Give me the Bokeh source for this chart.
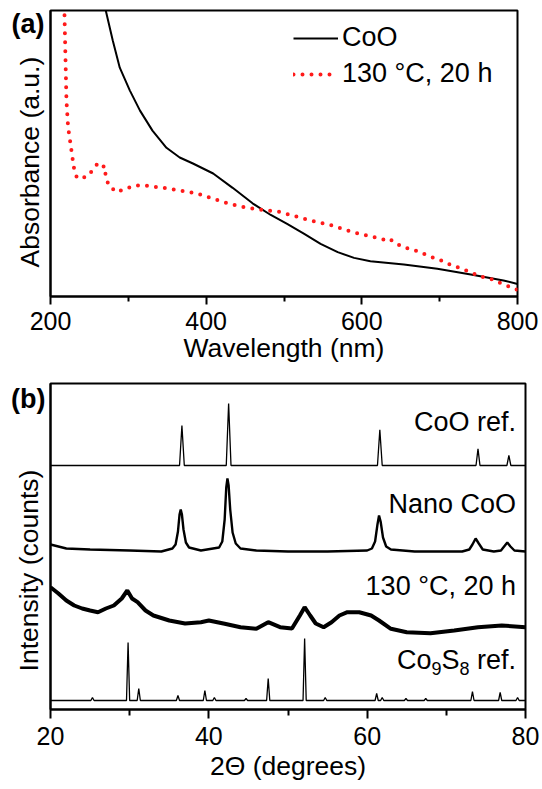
import math
from bokeh.plotting import figure
from bokeh.layouts import column
from bokeh.models import FixedTicker, Legend, LegendItem, Label, Range1d
from bokeh.core.properties import value
from bokeh.embed import file_html
from bokeh.resources import INLINE

FONT = "Liberation Sans"

# ---------------- (a) UV-vis absorbance ----------------
coo_wl = [271, 280, 289, 302, 315, 331, 349, 366, 383, 409, 434, 460, 483, 504, 526,
          547, 569, 590, 611, 654, 697, 740, 782, 800]
coo_abs = [100, 89.5, 80, 72, 65, 58, 52, 48.6, 46.5, 43, 38, 32.5, 28.5, 25.4, 21.9,
           18.4, 15.5, 13.5, 12.3, 11.2, 9.7, 7.7, 5.6, 4.4]

s130_wl = [218, 219, 220.5, 222.6, 225.7, 229.9, 234, 245, 253.9, 260.3, 264.6, 269.7,
           271, 275, 284.7, 296.7, 308.2, 321, 344.6, 366, 387.4, 408.8, 430.2, 449.5,
           470.9, 491.5, 515, 538.5, 562, 585.6, 607, 628.3, 634.8, 643.4, 656.2, 666.9,
           679.7, 692.5, 705.4, 716.2, 729, 739.7, 752.5, 765.4, 778.2, 800]
s130_abs = [98.3, 86, 68.5, 59.2, 53.4, 45.2, 41.4, 41.7, 44, 46.4, 45.2, 45.6,
            41.7, 38.8, 36.5, 37.7, 38.8, 38.8, 38, 37.1, 36.1, 34.2, 32.4, 31.2,
            30.3, 29.8, 28, 26.3, 24.8, 22.7, 21.3, 19.9, 20.4, 18.6, 17, 16.3,
            14.9, 13.5, 12.3, 10.8, 9.7, 8.5, 7, 6.2, 4.7, 2.3]

wl_ticks = [200, 400, 600, 800]
wl_minor = [300, 500, 700]

# ---------------- (b) XRD ----------------
coo_ref_x = [20, 36.3, 36.6, 36.9, 42.2, 42.5, 42.8, 61.3, 61.6, 61.9, 73.75, 74.0, 74.25,
             77.65, 77.9, 78.15, 80]
coo_ref_y = [244, 244, 284, 244, 244, 306, 244, 244, 279.7, 244, 244, 260.7, 244,
             244, 254, 244, 244]

nano_x = [20, 22, 25, 30, 34, 35.4, 35.8, 36.1, 36.3, 36.45, 36.6, 36.8, 37.1, 37.5,
          39, 41.3, 41.7, 42.0, 42.2, 42.35, 42.5, 42.7, 43.0, 43.4, 44, 46, 50, 55, 60,
          60.6, 61.0, 61.3, 61.5, 61.7, 62.0, 62.4, 63, 66, 72, 72.9, 73.3, 73.7, 74.1,
          74.6, 76, 76.9, 77.3, 77.7, 78.1, 78.6, 80]
nano_y = [165, 161, 160, 159, 158, 161, 165, 178, 195, 200, 195, 180, 167, 162,
          159, 162, 168, 190, 222, 231, 224, 200, 177, 166, 161, 159, 158, 158, 159,
          161, 168, 185, 194, 188, 172, 163, 160, 158, 158, 160, 165, 171, 166,
          160, 158, 159, 163, 167, 163, 159, 158]

s130_x = [20, 21, 22, 23, 24, 25, 26, 27, 28, 29, 29.7, 30.3, 31, 32, 33, 35, 37, 39, 40,
          42, 44, 46, 47.5, 49, 50.5, 51.5, 52.1, 52.8, 53.5, 54.5, 55.5, 56.5, 57.5, 59,
          60.5, 61.5, 63, 65, 68, 71, 74, 77, 80]
s130_y = [122.3, 116, 109, 104, 101, 99, 97.3, 101, 104, 111, 119, 111, 107.3, 99, 94, 89,
          86, 87.3, 89, 85.7, 82.3, 80.7, 87.3, 82.3, 81, 94, 102.3, 94, 86, 82.3, 87.3, 94,
          97.3, 97.3, 94, 89, 80.7, 77.3, 76.3, 79, 82.3, 84, 82.3]

co9s8_peaks = [25.3, 29.8, 31.15, 36.1, 39.5, 40.7, 44.7, 47.5, 52.1, 54.7, 61.2, 61.9,
               64.9, 67.4, 73.3, 76.8, 79.0]
co9s8_tops = [12, 67, 21, 14, 19, 12, 11, 31, 71, 12, 16, 12, 11, 11, 18, 17, 12]
co9s8_base = 9

tt_ticks = [20, 40, 60, 80]
tt_minor = [30, 50, 70]

# stick-like reference profile built from the peak list
co9_x = [20]
co9_y = [co9s8_base]
for pk, tp in zip(co9s8_peaks, co9s8_tops):
    co9_x += [pk - 0.2, pk, pk + 0.2]
    co9_y += [co9s8_base, tp, co9s8_base]
co9_x.append(80)
co9_y.append(co9s8_base)


def style(p, ticks, minor, xlabel):
    p.xgrid.visible = False
    p.ygrid.visible = False
    p.outline_line_color = "black"
    p.outline_line_width = 2
    p.background_fill_color = "white"
    p.border_fill_color = "white"
    p.xaxis.ticker = FixedTicker(ticks=ticks, minor_ticks=minor)
    p.yaxis.ticker = FixedTicker(ticks=[])
    for ax in (p.xaxis[0], p.yaxis[0]):
        ax.axis_line_width = 2
        ax.axis_line_color = "black"
        ax.major_tick_line_width = 2
        ax.minor_tick_line_width = 2
        ax.major_tick_in = 0
        ax.minor_tick_in = 0
        ax.major_label_text_font = FONT
        ax.major_label_text_font_size = "25px"
        ax.major_label_text_color = "black"
        ax.axis_label_text_font = FONT
        ax.axis_label_text_font_size = "26.5px"
        ax.axis_label_text_font_style = "normal"
        ax.axis_label_text_color = "black"
    p.xaxis.major_tick_out = 8
    p.xaxis.minor_tick_out = 5
    p.yaxis.major_tick_out = 0
    p.yaxis.minor_tick_out = 0
    p.yaxis.major_label_standoff = 0
    p.xaxis.major_label_standoff = 7
    p.xaxis.axis_label_standoff = 0
    p.xaxis.axis_label = xlabel


def free_text(p, x, y, txt, dx, dy, size, bold=False, angle=0.0, align="left"):
    # text glyph drawn at overlay level so that it is not clipped to the frame
    r = p.text(x=[x], y=[y], text=[txt], x_offset=dx, y_offset=dy, angle=angle,
               text_font=value(FONT), text_font_size=size,
               text_font_style="bold" if bold else "normal",
               text_baseline="middle", text_align=align, text_color="black")
    r.level = "overlay"


# ---------- figure (a) ----------
pa = figure(frame_width=467, frame_height=286, min_border_left=50, min_border_top=10,
            min_border_right=25, min_border_bottom=72,
            x_range=Range1d(200, 800), y_range=Range1d(0, 100),
            output_backend="svg", toolbar_location=None)
style(pa, wl_ticks, wl_minor, "Wavelength (nm)")

r_coo = pa.line(coo_wl, coo_abs, line_color="black", line_width=2)
r_130 = pa.line(s130_wl, s130_abs, line_color="#ff1a1a", line_width=4,
                line_dash="0 9", line_cap="round")

leg = Legend(items=[LegendItem(label="CoO", renderers=[r_coo]),
                    LegendItem(label="130 °C, 20 h", renderers=[r_130])],
             location=(243, 207), orientation="vertical",
             glyph_width=45, glyph_height=30, label_height=30, label_standoff=4,
             spacing=5, padding=0, margin=0,
             label_text_font=FONT, label_text_font_size="27px",
             label_text_color="black",
             border_line_alpha=0, background_fill_alpha=0)
pa.add_layout(leg)

free_text(pa, 200, 100, "(a)", -39, 13, "27px", bold=True)
free_text(pa, 200, 47, "Absorbance (a.u.)", -21, 0, "26.5px", angle=math.pi / 2, align="center")

# ---------- figure (b) ----------
pb = figure(frame_width=475, frame_height=326, min_border_left=50, min_border_top=15,
            min_border_right=17, min_border_bottom=72,
            x_range=Range1d(20, 80), y_range=Range1d(0, 326),
            output_backend="svg", toolbar_location=None)
style(pb, tt_ticks, tt_minor, "2Θ (degrees)")
pb.xaxis.major_tick_out = 9
pb.xaxis.minor_tick_out = 6
pb.xaxis.major_label_standoff = 8
pb.xaxis.axis_label_standoff = 3

pb.line(coo_ref_x, coo_ref_y, line_color="black", line_width=1.3)
pb.line(nano_x, nano_y, line_color="black", line_width=2.4)
pb.line(s130_x, s130_y, line_color="black", line_width=4)
pb.line(co9_x, co9_y, line_color="black", line_width=1.3)

lab_kw = dict(text_font=FONT, text_color="black", text_baseline="middle",
              text_align="right")
pb.add_layout(Label(x=80, y=288, x_offset=-9.5, text="CoO ref.", text_font_size="27px", **lab_kw))
pb.add_layout(Label(x=80, y=205.7, x_offset=-9.5, text="Nano CoO", text_font_size="27px", **lab_kw))
pb.add_layout(Label(x=80, y=123.2, x_offset=-9.5, text="130 °C, 20 h", text_font_size="27px", **lab_kw))
# Co9S8 ref. with subscripts
co9_parts = [("ref.", -9.5, 0, "27px"), ("8", -56, -9, "18px"), ("S", -66, 0, "27px"),
             ("9", -84, -9, "18px"), ("Co", -94, 0, "27px")]
for txt, xo, yo, fs in co9_parts:
    pb.add_layout(Label(x=80, y=50, x_offset=xo, y_offset=yo, text=txt,
                        text_font_size=fs, **lab_kw))

free_text(pb, 20, 326, "(b)", -39.5, 15.5, "27px", bold=True)
free_text(pb, 20, 139, "Intensity (counts)", -22, 0, "26.5px", angle=math.pi / 2, align="center")

layout = column(pa, pb, spacing=0)
open("out.html", "w").write(file_html(layout, INLINE))
